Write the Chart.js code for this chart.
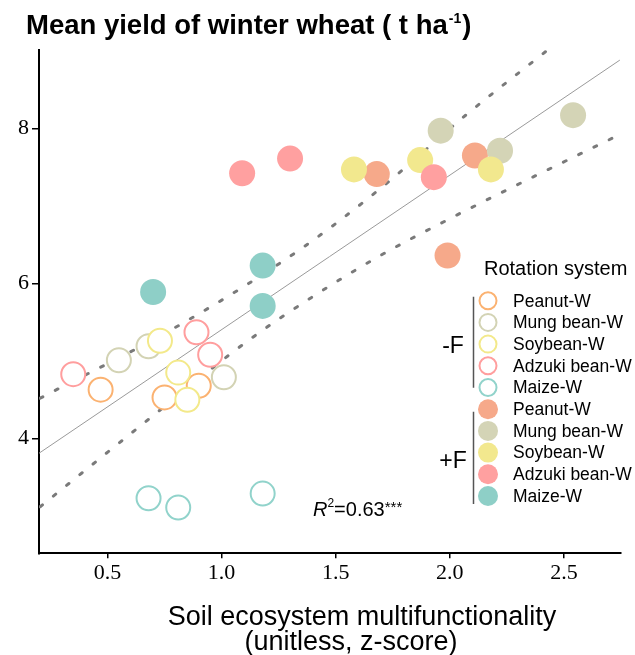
<!doctype html>
<html lang="en">
<head>
<meta charset="utf-8" />
<title>Mean yield of winter wheat vs soil multifunctionality</title>
<script src="https://cdn.jsdelivr.net/npm/chart.js@4.4.1/dist/chart.umd.min.js"></script>
<style>
  body { margin: 0; background: #fff; }
  #yieldChart { display: block; }
</style>
</head>
<body>
<canvas id="yieldChart" width="635" height="655"></canvas>
<script>
  // Rotation systems and colours
  const crops = ["Peanut-W", "Mung bean-W", "Soybean-W", "Adzuki bean-W", "Maize-W"];
  const fillColors = ["#F6A98A", "#D4D4B6", "#F2E88E", "#FFA0A0", "#8ECFC7"];
  const ringColors = ["#FBB271", "#D3D3B4", "#F3E98A", "#FF9E9E", "#91D3CB"];

  // -F (no fertiliser), one row per crop
  const noFertX = [
    [0.47, 0.75, 0.90],
    [0.55, 0.68, 1.01],
    [0.73, 0.81, 0.85],
    [0.35, 0.89, 0.95],
    [0.68, 0.81, 1.18]
  ];
  const noFertY = [
    [4.63, 4.53, 4.68],
    [5.01, 5.19, 4.79],
    [5.26, 4.85, 4.50],
    [4.83, 5.37, 5.08],
    [3.23, 3.11, 3.29]
  ];

  // +F (fertilised)
  const fertX = [
    [1.68, 2.11, 1.99],
    [1.96, 2.22, 2.54],
    [1.58, 1.87, 2.18],
    [1.09, 1.30, 1.93],
    [0.70, 1.18, 1.18]
  ];
  const fertY = [
    [7.41, 7.65, 6.36],
    [7.97, 7.71, 8.17],
    [7.47, 7.59, 7.47],
    [7.42, 7.61, 7.37],
    [5.89, 6.23, 5.71]
  ];

  // Fitted line and its confidence band
  const fitX = [0.2, 2.745];
  const fitY = [3.81, 8.88];
  const upperX = [0.205, 0.82, 1.34, 1.69, 2.07, 2.42];
  const upperY = [4.52, 5.47, 6.43, 7.21, 8.17, 8.99];
  const lowerX = [0.205, 0.66, 1.12, 1.40, 1.69, 1.99, 2.28, 2.71];
  const lowerY = [3.12, 4.20, 5.27, 5.83, 6.35, 6.82, 7.25, 7.87];

  // Axes
  const xTicks = [0.5, 1.0, 1.5, 2.0, 2.5];
  const yTicks = [4, 6, 8];
  const xTitle = ["Soil ecosystem multifunctionality", "(unitless, z-score)"];

  // Texts
  const titleMain = "Mean yield of winter wheat ( t ha";
  const titleSup = "-1";
  const titleEnd = ")";
  const r2Text = ["R", "2", "=0.63", "***"];
  const legendTitle = "Rotation system";
  const groupLabels = ["-F", "+F"];

  const SANS = "'Liberation Sans', Arial, sans-serif";
  const SERIF = "'Liberation Serif', 'Times New Roman', serif";

  const toPoints = (xs, ys) => xs.map((x, k) => ({ x: x, y: ys[k] }));

  const datasets = [];
  crops.forEach((name, i) => {
    datasets.push({
      label: name + " -F",
      data: toPoints(noFertX[i], noFertY[i]),
      pointRadius: 12,
      pointHoverRadius: 12,
      pointBorderWidth: 2,
      pointBackgroundColor: "#ffffff",
      pointBorderColor: ringColors[i],
      order: crops.length - i
    });
  });
  crops.forEach((name, i) => {
    datasets.push({
      label: name + " +F",
      data: toPoints(fertX[i], fertY[i]),
      pointRadius: 13,
      pointHoverRadius: 13,
      pointBorderWidth: 0,
      pointBackgroundColor: fillColors[i],
      pointBorderColor: fillColors[i],
      order: crops.length - i
    });
  });
  const lineStyle = {
    showLine: true,
    pointRadius: 0,
    pointHoverRadius: 0,
    fill: false,
    order: 20
  };
  datasets.push(Object.assign({}, lineStyle, {
    label: "fit",
    data: toPoints(fitX, fitY),
    borderColor: "#9a9a9a",
    borderWidth: 1
  }));
  const bandStyle = {
    borderColor: "#7a7a7a",
    borderWidth: 3,
    borderDash: [3, 14],
    borderCapStyle: "round",
    cubicInterpolationMode: "monotone"
  };
  datasets.push(Object.assign({}, lineStyle, bandStyle, {
    label: "upper",
    data: toPoints(upperX, upperY)
  }));
  datasets.push(Object.assign({}, lineStyle, bandStyle, {
    label: "lower",
    data: toPoints(lowerX, lowerY)
  }));

  // Titles, R2 note and grouped legend
  const overlay = {
    id: "overlay",
    afterDraw(chart) {
      const ctx = chart.ctx;
      ctx.save();
      ctx.fillStyle = "#000";

      // chart title with superscript
      ctx.textAlign = "left";
      ctx.textBaseline = "alphabetic";
      let x = 26;
      ctx.font = "bold 27.5px " + SANS;
      ctx.fillText(titleMain, x, 34);
      x += ctx.measureText(titleMain).width;
      ctx.font = "bold 14px " + SANS;
      ctx.fillText(titleSup, x + 1, 23);
      x += ctx.measureText(titleSup).width + 2;
      ctx.font = "bold 27.5px " + SANS;
      ctx.fillText(titleEnd, x, 34);

      // x axis title
      ctx.textAlign = "center";
      ctx.font = "27px " + SANS;
      ctx.fillText(xTitle[0], 362, 625);
      ctx.fillText(xTitle[1], 351, 650);

      // R2
      ctx.textAlign = "left";
      x = 313;
      ctx.font = "italic 20px " + SANS;
      ctx.fillText(r2Text[0], x, 516);
      x += ctx.measureText(r2Text[0]).width;
      ctx.font = "12px " + SANS;
      ctx.fillText(r2Text[1], x, 507);
      x += ctx.measureText(r2Text[1]).width;
      ctx.font = "20px " + SANS;
      ctx.fillText(r2Text[2], x, 516);
      x += ctx.measureText(r2Text[2]).width;
      ctx.font = "15px " + SANS;
      ctx.fillText(r2Text[3], x, 512);

      // legend
      ctx.font = "20px " + SANS;
      ctx.fillText(legendTitle, 484, 275);

      const step = 21.7;
      ctx.textBaseline = "middle";
      for (let g = 0; g < 2; g++) {
        for (let i = 0; i < crops.length; i++) {
          const cy = 300.7 + (g * crops.length + i) * step;
          ctx.beginPath();
          if (g === 0) {
            ctx.arc(488, cy, 8.5, 0, Math.PI * 2);
            ctx.fillStyle = "#fff";
            ctx.fill();
            ctx.lineWidth = 2;
            ctx.strokeStyle = ringColors[i];
            ctx.stroke();
          } else {
            ctx.arc(488, cy, 10, 0, Math.PI * 2);
            ctx.fillStyle = fillColors[i];
            ctx.fill();
          }
          ctx.fillStyle = "#000";
          ctx.font = "17.5px " + SANS;
          ctx.fillText(crops[i], 513, cy + 1);
        }
      }

      // group brackets
      ctx.strokeStyle = "#555";
      ctx.lineWidth = 1.5;
      ctx.beginPath();
      ctx.moveTo(473.5, 296.7);
      ctx.lineTo(473.5, 387.7);
      ctx.moveTo(473.5, 411.7);
      ctx.lineTo(473.5, 504);
      ctx.stroke();

      ctx.textAlign = "center";
      ctx.font = "23px " + SANS;
      ctx.fillText(groupLabels[0], 453, 347);
      ctx.fillText(groupLabels[1], 453, 462);
      ctx.restore();
    }
  };

  new Chart(document.getElementById("yieldChart"), {
    type: "scatter",
    data: { datasets: datasets },
    plugins: [overlay],
    options: {
      responsive: false,
      animation: false,
      layout: { padding: { top: 50, right: 13.3, left: 0, bottom: 0 } },
      plugins: {
        legend: { display: false },
        tooltip: { enabled: false }
      },
      scales: {
        x: {
          type: "linear",
          min: 0.2,
          max: 2.75,
          afterBuildTicks: (s) => { s.ticks = xTicks.map((v) => ({ value: v })); },
          afterFit: (s) => { s.height = 101.7; },
          grid: { drawOnChartArea: false, color: "#000", lineWidth: 1.5, tickLength: 5 },
          border: { display: true, color: "#000", width: 2 },
          ticks: {
            color: "#000",
            padding: 2,
            maxRotation: 0,
            autoSkip: false,
            font: { family: SERIF, size: 22 },
            callback: (v) => Number(v).toFixed(1)
          }
        },
        y: {
          type: "linear",
          min: 2.52,
          max: 9.01,
          afterBuildTicks: (s) => { s.ticks = yTicks.map((v) => ({ value: v })); },
          afterFit: (s) => { s.width = 39; },
          grid: { drawOnChartArea: false, color: "#000", lineWidth: 1.5, tickLength: 7 },
          border: { display: true, color: "#000", width: 2 },
          ticks: {
            color: "#000",
            padding: 3,
            font: { family: SERIF, size: 22 }
          }
        }
      }
    }
  });
</script>
</body>
</html>
